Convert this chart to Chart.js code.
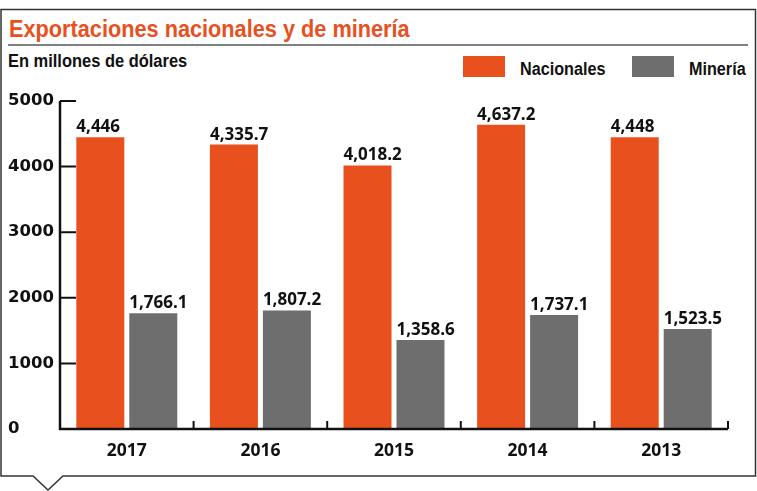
<!DOCTYPE html>
<html>
<head>
<meta charset="utf-8">
<script src="https://cdn.jsdelivr.net/npm/chart.js@4.4.0/dist/chart.umd.min.js"></script>
<style>
  body { margin: 0; background: #fff; }
  #wrap { position: relative; width: 757px; height: 491px; overflow: hidden;
          font-family: "Liberation Sans Narrow", "Liberation Sans", sans-serif; font-weight: bold; color: #111; }
  #wrap canvas { position: absolute; left: 0; top: 0; }
  #frame { position: absolute; left: 0; top: 0; }
  .title { position: absolute; left: 9px; top: 18px; font-size: 23px; line-height: 23px; color: #e8501e;
           white-space: nowrap; transform: scaleX(0.944); transform-origin: left top; }
  .rule { position: absolute; left: 8px; top: 44px; width: 740px; height: 2px; background: #808080; }
  .sub { position: absolute; left: 8px; top: 52px; font-size: 18px; line-height: 18px; white-space: nowrap;
         transform: scaleX(0.914); transform-origin: left top; }
  #legend { position: absolute; right: 11px; top: 56px; height: 21px; display: flex; align-items: center;
            font-size: 17.5px; line-height: 21px; white-space: nowrap; }
  #legend .box { width: 42px; height: 21px; margin-right: 15px; }
  #legend .item { display: flex; align-items: center; }
  #legend .item + .item { margin-left: 27px; }
  #legend .txt { display: inline-block; position: relative; top: 3px; transform: scaleX(0.925); transform-origin: left top; }
</style>
</head>
<body>
<div id="wrap">
  <svg id="frame" width="757" height="491">
    <path d="M1,9.5 H755.5 V476 H63 L48,490 L33,476 H1 Z" fill="none" stroke="#333" stroke-width="1.5"/>
  </svg>
  <div class="title">Exportaciones nacionales y de minería</div>
  <div class="rule"></div>
  <div class="sub">En millones de dólares</div>
  <div id="legend"></div>
  <canvas id="chart" width="757" height="491"></canvas>
</div>
<script>
const years = ["2017", "2016", "2015", "2014", "2013"];
const nacionales = [4446, 4335.7, 4018.2, 4637.2, 4448];
const mineria = [1766.1, 1807.2, 1358.6, 1737.1, 1523.5];
const yTicks = [0, 1000, 2000, 3000, 4000, 5000];

const orange = "#e8501e";
const gray = "#6f6e6f";

// axis lines and short inward tick marks, as in the print graphic
const axisMarks = {
  id: "axisMarks",
  afterDraw(chart) {
    const { ctx, chartArea: a, scales: { x, y } } = chart;
    ctx.save();
    ctx.strokeStyle = "#111";
    ctx.lineWidth = 2.5;
    ctx.beginPath();
    ctx.moveTo(a.left, y.getPixelForValue(yTicks[yTicks.length - 1]));
    ctx.lineTo(a.left, a.bottom);
    ctx.lineTo(a.right, a.bottom);
    ctx.stroke();
    ctx.lineWidth = 2;
    ctx.beginPath();
    yTicks.forEach(v => {
      const py = y.getPixelForValue(v);
      ctx.moveTo(a.left, py);
      ctx.lineTo(a.left + 16, py);
    });
    const half = (x.getPixelForValue(1) - x.getPixelForValue(0)) / 2;
    years.forEach((_, i) => {
      const px = x.getPixelForValue(i) + half;
      ctx.moveTo(px, a.bottom);
      ctx.lineTo(px, a.bottom - 8);
    });
    ctx.stroke();
    ctx.restore();
  }
};

// value labels, left aligned with each bar
const barLabels = {
  id: "barLabels",
  afterDatasetsDraw(chart) {
    const { ctx } = chart;
    ctx.save();
    ctx.font = "bold 17px 'Open Sans'";
    ctx.fillStyle = "#111";
    ctx.textAlign = "left";
    ctx.textBaseline = "alphabetic";
    chart.data.datasets.forEach((ds, di) => {
      chart.getDatasetMeta(di).data.forEach((bar, i) => {
        const txt = ds.data[i].toLocaleString("en-US", { maximumFractionDigits: 1 });
        ctx.fillText(txt, bar.x - bar.width / 2, bar.y - 5);
      });
    });
    ctx.restore();
  }
};

const chart = new Chart(document.getElementById("chart"), {
  type: "bar",
  data: {
    labels: years,
    datasets: [
      { label: "Nacionales", data: nacionales, backgroundColor: orange },
      { label: "Minería", data: mineria, backgroundColor: gray }
    ]
  },
  options: {
    responsive: false,
    animation: false,
    categoryPercentage: 0.793,
    barPercentage: 0.906,
    layout: { padding: { left: 8, right: 29, top: 101, bottom: 0 } },
    plugins: { legend: { display: false }, title: { display: false }, tooltip: { enabled: false } },
    scales: {
      x: {
        grid: { display: false, drawTicks: false },
        border: { display: false },
        ticks: { color: "#111", padding: 12, font: { family: "'Open Sans'", weight: "bold", size: 17.5 } },
        afterFit(s) { s.height = 62; }
      },
      y: {
        min: 0,
        max: 5000,
        afterBuildTicks(s) { s.ticks = yTicks.map(v => ({ value: v })); },
        grid: { display: false, drawTicks: false },
        border: { display: false },
        ticks: {
          color: "#111",
          crossAlign: "far",
          font: { family: "'DejaVu Sans'", weight: "bold", size: 16.5 },
          callback: v => String(v)
        },
        afterFit(s) { s.width = 52; }
      }
    }
  },
  plugins: [axisMarks, barLabels]
});

// legend built from the datasets
const legend = document.getElementById("legend");
chart.data.datasets.forEach(ds => {
  const item = document.createElement("div");
  item.className = "item";
  const box = document.createElement("span");
  box.className = "box";
  box.style.background = ds.backgroundColor;
  const txt = document.createElement("span");
  txt.className = "txt";
  txt.textContent = ds.label;
  item.appendChild(box);
  item.appendChild(txt);
  legend.appendChild(item);
  // the text is narrowed with scaleX, so give back the width it no longer uses
  txt.style.marginRight = -(txt.offsetWidth * (1 - 0.925)) + "px";
});
</script>
</body>
</html>
